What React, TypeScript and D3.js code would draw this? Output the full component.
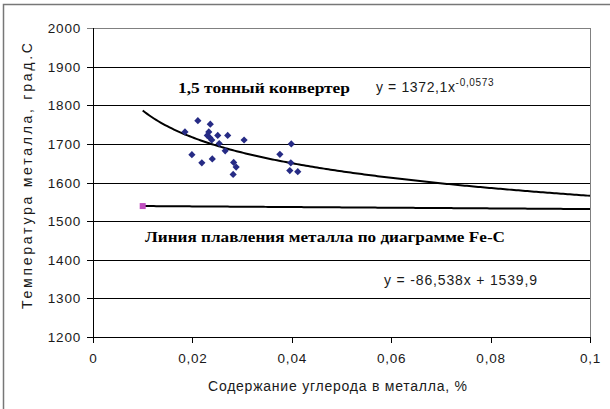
import React from "react";
import * as d3 from "d3";

const carbon = [0.0211, 0.0236, 0.0185, 0.0233, 0.0251, 0.0271, 0.023, 0.0235, 0.0239, 0.0304, 0.0399, 0.0254, 0.0266, 0.0199, 0.0376, 0.0219, 0.024, 0.0283, 0.0288, 0.0398, 0.0396, 0.0412, 0.0282];
const temperature = [1760, 1751, 1731, 1731, 1722, 1722, 1722, 1716, 1710, 1710, 1700, 1701, 1682, 1672, 1673, 1651, 1661, 1652, 1640, 1651, 1631, 1628, 1621];
const meltX = [0.01];
const meltY = [1539];
const powerCoef = [1372.1, -0.0573];
const linearCoef = [-86.538, 1539.9];
const trendRange = [0.01, 0.1];
const yTicks = [1200, 1300, 1400, 1500, 1600, 1700, 1800, 1900, 2000];
const xTicks = [0, 0.02, 0.04, 0.06, 0.08, 0.1];

const W = 610, H = 409;
const L = 93, R = 590, T = 28, B = 337;

export default function App() {
  const x = d3.scaleLinear().domain([0, 0.1]).range([L, R]);
  const y = d3.scaleLinear().domain([1200, 2000]).range([B, T]);
  const fmt = (v: number) => (v === 0 ? "0" : String(+v.toFixed(2)).replace(".", ","));
  const xs = d3.range(0, 201).map((i) => trendRange[0] + (trendRange[1] - trendRange[0]) * (i / 200));
  const powerLine = d3.line<number>().x((v) => x(v)).y((v) => y(powerCoef[0] * Math.pow(v, powerCoef[1])));
  const linLine = d3.line<number>().x((v) => x(v)).y((v) => y(linearCoef[0] * v + linearCoef[1]));
  const diamond = "M0,-3.6L3.6,0L0,3.6L-3.6,0Z";
  const sans = "'Liberation Sans', Arial, sans-serif";
  const serif = "'Liberation Serif', 'Times New Roman', serif";
  const ink = "#1a1a1a";
  return (
    <svg width={W} height={H} style={{ position: "absolute", left: 0, top: 0, background: "#fff" }}>
      <rect x={3.5} y={4.5} width={700} height={500} fill="#fff" stroke="#777" strokeWidth={1.5} />
      {yTicks.map((t) => (
        <g key={t}>
          <line x1={L - 6} x2={R} y1={Math.round(y(t)) + 0.5} y2={Math.round(y(t)) + 0.5} stroke={t === 2000 ? "#808080" : "#000"} strokeWidth={1} />
          <text x={81} y={y(t) + 5} textAnchor="end" fontFamily={sans} fontSize={13.5} letterSpacing={0.8} fill={ink}>{t}</text>
        </g>
      ))}
      <line x1={R + 0.5} x2={R + 0.5} y1={T} y2={B} stroke="#808080" />
      <line x1={L + 0.5} x2={L + 0.5} y1={T} y2={B + 0.5} stroke="#000" />
      {xTicks.map((t) => (
        <g key={t}>
          <line x1={Math.round(x(t)) + 0.5} x2={Math.round(x(t)) + 0.5} y1={B} y2={B + 6} stroke="#000" />
          <text x={x(t) + 0.5} y={B + 26} textAnchor="middle" fontFamily={sans} fontSize={13.5} letterSpacing={0.8} fill={ink}>{fmt(t)}</text>
        </g>
      ))}
      <path d={powerLine(xs) || ""} fill="none" stroke="#000" strokeWidth={2} />
      <path d={linLine(xs) || ""} fill="none" stroke="#000" strokeWidth={2} />
      {carbon.map((c, i) => (
        <path key={i} d={diamond} transform={`translate(${x(c)},${y(temperature[i])})`} fill="#262b85" />
      ))}
      {meltX.map((c, i) => (
        <rect key={i} x={x(c) - 3} y={y(meltY[i]) - 3} width={6} height={6} fill="#c04fc0" />
      ))}
      <text x={178} y={93} fontFamily={serif} fontWeight="bold" fontSize={15} textLength={172} lengthAdjust="spacingAndGlyphs" fill="#000">1,5 тонный конвертер</text>
      <text x={376} y={92} fontFamily={sans} fontSize={14} fill={ink}>
        <tspan textLength={79} lengthAdjust="spacing">y = 1372,1x</tspan>
        <tspan dy={-6} fontSize={10} textLength={38} lengthAdjust="spacing">-0,0573</tspan>
      </text>
      <text x={145} y={242} fontFamily={serif} fontWeight="bold" fontSize={15} textLength={360} lengthAdjust="spacingAndGlyphs" fill="#000">Линия плавления металла по диаграмме Fe-C</text>
      <text x={384} y={285} fontFamily={sans} fontSize={14} textLength={153} lengthAdjust="spacing" fill={ink}>y = -86,538x + 1539,9</text>
      <text x={208} y={391} fontFamily={sans} fontSize={14} textLength={259} lengthAdjust="spacing" fill={ink}>Содержание углерода в металла, %</text>
      <text transform={`translate(32,${309}) rotate(-90)`} fontFamily={sans} fontSize={14} textLength={266} lengthAdjust="spacing" fill={ink}>Температура металла, град.С</text>
    </svg>
  );
}
